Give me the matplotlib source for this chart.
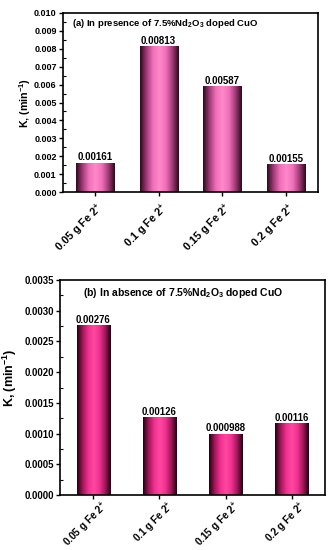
import numpy as np
import matplotlib.pyplot as plt
from matplotlib.colors import LinearSegmentedColormap
from matplotlib.ticker import MultipleLocator, FormatStrFormatter

plt.rcParams['font.family'] = ['Liberation Sans', 'DejaVu Sans']
plt.rcParams['font.weight'] = 'bold'
plt.rcParams['mathtext.fontset'] = 'custom'
plt.rcParams['mathtext.rm'] = 'Liberation Sans:bold'
plt.rcParams['mathtext.bf'] = 'Liberation Sans:bold'
plt.rcParams['mathtext.default'] = 'bf'

categories = [r'0.05 g Fe 2$^{+}$', r'0.1 g Fe 2$^{+}$', r'0.15 g Fe 2$^{+}$', r'0.2 g Fe 2$^{+}$']
k_presence = [0.00161, 0.00813, 0.00587, 0.00155]
k_absence = [0.00276, 0.00126, 0.000988, 0.00116]
labels_presence = ['0.00161', '0.00813', '0.00587', '0.00155']
labels_absence = ['0.00276', '0.00126', '0.000988', '0.00116']

cmap_a = LinearSegmentedColormap.from_list(
    'a', ['#2a0a18', '#a03a78', '#f070b8', '#ff88cc', '#f070b8', '#a03a78', '#2a0a18'])
cmap_b = LinearSegmentedColormap.from_list(
    'b', ['#200010', '#a01858', '#f03090', '#ff48a0', '#f03090', '#a01858', '#200010'])


def draw_panel(ax, values, texts, width, cmap, ymax, major, fmt, title, title_x, title_fs,
               val_fs, tick_fs, cat_fs, cat_off, ylab_fs, ylab_xy):
    x = np.arange(len(values))
    bars = ax.bar(x, values, width=width, color='none', edgecolor='none', zorder=2)
    grad = np.linspace(0, 1, 256).reshape(1, -1)
    for b in bars:
        x0, y0 = b.get_x(), b.get_y()
        ax.imshow(grad, cmap=cmap, aspect='auto', zorder=2,
                  extent=[x0, x0 + b.get_width(), y0, y0 + b.get_height()])
    for xi, v, t in zip(x, values, texts):
        ax.text(xi, v + ymax * 0.004, t, ha='center', va='bottom',
                fontsize=val_fs, fontweight='bold')
    ax.set_xlim(-0.5, len(values) - 0.5)
    ax.set_ylim(0, ymax)
    ax.yaxis.set_major_locator(MultipleLocator(major))
    ax.yaxis.set_minor_locator(MultipleLocator(major / 2))
    ax.yaxis.set_major_formatter(FormatStrFormatter(fmt))
    ax.set_xticks(x)
    ax.set_xticklabels([])
    for xi, c in zip(x, categories):
        ax.annotate(c, (xi, 0), xycoords=ax.get_xaxis_transform(),
                    xytext=cat_off, textcoords='offset points',
                    rotation=45, rotation_mode='anchor', ha='right', va='center',
                    fontsize=cat_fs, fontweight='bold', annotation_clip=False)
    ax.tick_params(axis='y', which='major', direction='out', length=3, width=1,
                   labelsize=tick_fs, pad=1.5)
    ax.tick_params(axis='y', which='minor', direction='in', length=2, width=0.8)
    ax.tick_params(axis='x', direction='out', length=3, width=1)
    for s in ax.spines.values():
        s.set_linewidth(1.2)
    ax.set_ylabel(r'K, (min$^{-1}$)', fontsize=ylab_fs, fontweight='bold')
    ax.yaxis.set_label_coords(*ylab_xy)
    ax.text(title_x, 0.94, title, transform=ax.transAxes, fontsize=title_fs,
            fontweight='bold', va='center', ha='left')


fig = plt.figure(figsize=(3.34, 5.5), dpi=100)
ax1 = fig.add_axes([63 / 334, 1 - 192 / 550, 255 / 334, 179 / 550])
ax2 = fig.add_axes([60 / 334, 1 - 495 / 550, 265 / 334, 215 / 550])

draw_panel(ax1, k_presence, labels_presence, 0.6, cmap_a, 0.010, 0.001, '%.3f',
           r'(a) In presence of 7.5%Nd$_2$O$_3$ doped CuO', 0.035, 6.8,
           7.0, 6.5, 7.8, (5.0, -10.1), 7.7, (-0.118, 0.5))
draw_panel(ax2, k_absence, labels_absence, 0.5, cmap_b, 0.0035, 0.0005, '%.4f',
           r'(b) In absence of 7.5%Nd$_2$O$_3$ doped CuO', 0.087, 7.5,
           6.9, 6.9, 7.2, (9.0, -6.8), 9.0, (-0.155, 0.546))

fig.savefig('out.png', dpi=100)
